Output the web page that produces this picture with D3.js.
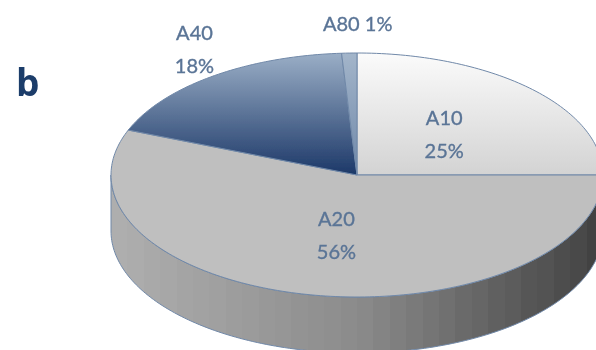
<!DOCTYPE html>
<html>
<head>
<meta charset="utf-8">
<script src="https://cdn.jsdelivr.net/npm/d3@7"></script>
<style>
  body { margin: 0; background: #fff; }
  svg { display: block; }
</style>
</head>
<body>
<div id="chart"></div>
<script>
// slice data, clockwise from 12 o'clock
var categories = ["A10", "A20", "A40", "A80"];
var values = [25, 56, 18, 1];
var pctLabels = ["25%", "56%", "18%", "1%"];
var panelLabel = "b";

var width = 596,
  height = 350,
  cx = 357, cy = 175,   // centre of the top face
  rx = 246, ry = 122,   // ellipse radii of the top face
  depth = 56,           // thickness of the disc
  svg;

var pie = d3.pie().sort(null).value(function(d) { return d; });
var arcs = pie(values);

// angle measured clockwise from 12 o'clock -> screen point on the ellipse
function pt(a, r, dy) {
  return [cx + Math.sin(a) * rx * r, cy - Math.cos(a) * ry * r + (dy || 0)];
}

function topPath(d) {
  var steps = Math.max(2, Math.ceil((d.endAngle - d.startAngle) / 0.02));
  var a = d3.range(steps + 1).map(function(i) {
    return d.startAngle + (d.endAngle - d.startAngle) * i / steps;
  });
  var p = [[cx, cy]].concat(a.map(function(t) { return pt(t, 1); }));
  return d3.line()(p) + "Z";
}

// outer wall, only the part facing the viewer (between 3 and 9 o'clock)
function sidePath(d) {
  var a0 = Math.max(d.startAngle, Math.PI / 2),
    a1 = Math.min(d.endAngle, Math.PI * 1.5);
  if (a1 <= a0) return null;
  var steps = Math.ceil((a1 - a0) / 0.02);
  var a = d3.range(steps + 1).map(function(i) { return a0 + (a1 - a0) * i / steps; });
  var topEdge = a.map(function(t) { return pt(t, 1); });
  var botEdge = a.slice().reverse().map(function(t) { return pt(t, 1, depth); });
  return d3.line()(topEdge.concat(botEdge)) + "Z";
}

svg = d3.select("#chart").append("svg")
  .attr("width", width)
  .attr("height", height);

var defs = svg.append("defs");

// the reference is a soft, slightly blurred scan
defs.append("filter")
  .attr("id", "soft")
  .append("feGaussianBlur")
  .attr("stdDeviation", 0.55);

// banded grey wall, light on the left, dark on the right
var wallShade = d3.scaleLinear()
  .domain([0, 0.5, 1])
  .range(["#aeaeae", "#8b8b8b", "#434343"]);
var bands = 30;
var wall = defs.append("linearGradient")
  .attr("id", "wall")
  .attr("gradientUnits", "userSpaceOnUse")
  .attr("x1", cx - rx).attr("x2", cx + rx)
  .attr("y1", 0).attr("y2", 0);
d3.range(bands).forEach(function(i) {
  var c = wallShade(i / (bands - 1));
  wall.append("stop").attr("offset", i / bands).attr("stop-color", c);
  wall.append("stop").attr("offset", (i + 1) / bands).attr("stop-color", c);
});

function vGrad(id, c0, c1) {
  var g = defs.append("linearGradient")
    .attr("id", id)
    .attr("x1", 0).attr("x2", 0).attr("y1", 0).attr("y2", 1);
  g.append("stop").attr("offset", 0).attr("stop-color", c0);
  g.append("stop").attr("offset", 1).attr("stop-color", c1);
}
vGrad("g10", "#fbfbfb", "#d3d3d3");
vGrad("g40", "#9aaec6", "#1c3868");
vGrad("g80", "#a3b5ca", "#6f88a9");

var fills = ["url(#g10)", "#bfbfbf", "url(#g40)", "url(#g80)"];
var edge = "#7088a8";

var root = svg.append("g").attr("filter", "url(#soft)");

// wall first
root.append("g")
  .selectAll("path")
  .data(arcs.filter(function(d) { return sidePath(d); }))
  .enter()
  .append("path")
  .attr("d", sidePath)
  .attr("fill", "url(#wall)")
  .attr("stroke", edge)
  .attr("stroke-width", 1);

// top face slices
root.append("g")
  .selectAll("path")
  .data(arcs)
  .enter()
  .append("path")
  .attr("d", topPath)
  .attr("fill", function(d, i) { return fills[i]; })
  .attr("stroke", edge)
  .attr("stroke-width", 1)
  .attr("stroke-linejoin", "round");

// labels: big slices inside, small ones outside
var lab = root.append("g")
  .attr("font-family", "Lato, 'Open Sans', sans-serif")
  .attr("font-size", 20)
  .attr("fill", "#5a7496")
  .attr("stroke", "#5a7496")
  .attr("stroke-width", 0.35)
  .attr("text-anchor", "middle");

arcs.forEach(function(d, i) {
  var mid = (d.startAngle + d.endAngle) / 2,
    inside = values[i] >= 20,
    p = pt(mid, inside ? 0.49 : 1.2);
  if (values[i] < 5) {
    lab.append("text")
      .attr("x", p[0] + 10).attr("y", p[1] - 5)
      .attr("dy", "0.35em")
      .text(categories[i] + " " + pctLabels[i]);
  } else {
    var gap = 33,
      nx = inside ? 2 : 11,
      ny = inside ? 2 : -7;
    lab.append("text")
      .attr("x", p[0] + nx).attr("y", p[1] + ny - gap / 2)
      .attr("dy", "0.35em")
      .text(categories[i]);
    lab.append("text")
      .attr("x", p[0] + nx).attr("y", p[1] + ny + gap / 2)
      .attr("dy", "0.35em")
      .text(pctLabels[i]);
  }
});

root.append("text")
  .attr("x", 16)
  .attr("y", 96)
  .attr("font-family", "'Open Sans', sans-serif")
  .attr("font-weight", "bold")
  .attr("font-size", 37)
  .attr("fill", "#1f3d6b")
  .text(panelLabel);
</script>
</body>
</html>
